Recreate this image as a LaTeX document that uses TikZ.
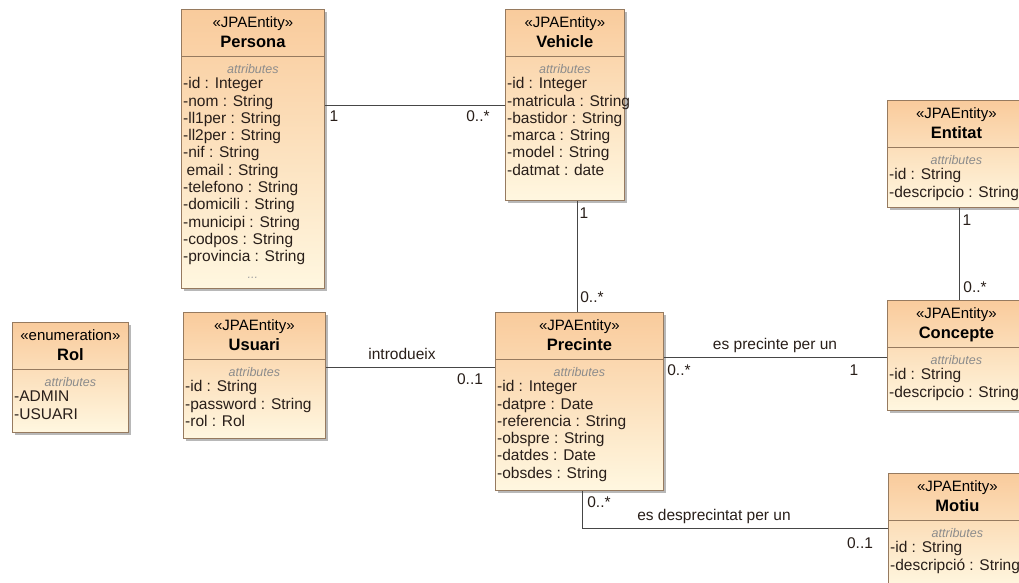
\documentclass[tikz,border=0pt]{standalone}
\usepackage{fontspec}
\setmainfont{Liberation Sans}
\usetikzlibrary{calc,shadows}
\definecolor{clsTop}{RGB}{249,203,156}
\definecolor{clsBot}{RGB}{255,247,224}
\definecolor{clsLine}{RGB}{150,122,95}
\definecolor{attrGray}{RGB}{140,140,140}
\definecolor{rowCol}{RGB}{40,30,25}
\definecolor{connCol}{RGB}{70,70,70}
\tikzset{
 cls/.style={draw=clsLine, line width=0.8pt, top color=clsTop, bottom color=clsBot, inner sep=0pt,
   drop shadow={shadow xshift=3pt, shadow yshift=-3pt, fill=black!55, opacity=0.5}},
 sepline/.style={draw=clsLine, line width=0.8pt},
 hdr/.style={font=\fontsize{15}{17}\selectfont, inner sep=0pt, text height=11pt, text depth=3.5pt},
 ttl/.style={font=\fontsize{16.5}{18}\selectfont\bfseries, inner sep=0pt, text height=11.5pt, text depth=3.5pt},
 attrl/.style={font=\fontsize{12.5}{14}\selectfont\itshape, text=attrGray, inner sep=0pt, text height=9pt, text depth=3pt},
 row/.style={font=\fontsize{15.5}{17}\selectfont, inner sep=0pt, anchor=west, text=rowCol, text height=11pt, text depth=3.5pt},
 conn/.style={draw=connCol, line width=0.8pt},
 lbl/.style={font=\fontsize{15.5}{17}\selectfont, inner sep=0pt, text=rowCol, text height=11pt, text depth=3.5pt},
}
% #1 name, #2 x, #3 y, #4 w, #5 h, #6 stereotype, #7 title, #8 rows
\newcommand\umlclass[8]{%
 \node[cls, minimum width=#4pt, minimum height=#5pt, anchor=north west] (#1) at (#2,#3) {};
 \draw[sepline] ($(#1.north west)+(0,47)$) coordinate (#1-sl) -- ($(#1.north east)+(0,47)$) coordinate (#1-sr);
 \node[hdr] (#1-st) at ($(#1.north)+(0,15)$) {#6};
 \node[ttl] (#1-ti) at ($(#1.north)+(0,34)$) {#7};
 \node[attrl] (#1-at) at ($(#1.north)+(0,61)$) {attributes};
 \foreach \r [count=\i] in {#8} {
   \node[row] (#1-r\i) at ($(#1.north west)+(2,{76+(\i-1)*17.3})$) {\r};
 }
}
\begin{document}
\begin{tikzpicture}[x=1pt,y=-1pt]
\useasboundingbox (0,0) rectangle (1019,582);
\clip (0,0) rectangle (1019,582);
\fill[white] (0,0) rectangle (1019,582);

\umlclass{persona}{181}{9}{143}{279}{«JPAEntity»}{Persona}{-id : Integer,-nom : String,-ll1per : String,-ll2per : String,-nif : String,\hspace{3.5pt}email : String,-telefono : String,-domicili : String,-municipi : String,-codpos : String,-provincia : String}
\node[attrl, text=attrGray!80] (persona-dots) at ($(persona.north)+(0,{76+11*17.3})$) {...};

\umlclass{vehicle}{505}{9}{119}{191}{«JPAEntity»}{Vehicle}{-id : Integer,-matricula : String,-bastidor : String,-marca : String,-model : String,-datmat : date}

\umlclass{entitat}{887}{100}{138}{107}{«JPAEntity»}{Entitat}{-id : String,-descripcio : String}

\umlclass{concepte}{887}{300}{138}{110}{«JPAEntity»}{Concepte}{-id : String,-descripcio : String}

\umlclass{rol}{12}{322}{116}{110}{«enumeration»}{Rol}{-ADMIN,-USUARI}

\umlclass{usuari}{183}{312}{142}{126}{«JPAEntity»}{Usuari}{-id : String,-password : String,-rol : Rol}

\umlclass{precinte}{495}{312}{168}{178}{«JPAEntity»}{Precinte}{-id : Integer,-datpre : Date,-referencia : String,-obspre : String,-datdes : Date,-obsdes : String}

\umlclass{motiu}{888}{473}{138}{114}{«JPAEntity»}{Motiu}{-id : String,-descripció : String}

% Persona -- Vehicle
\draw[conn] ($(persona.north east)+(0,96)$) coordinate (pv) -- (pv -| vehicle.west);
\node[lbl] (pv-a) at (334,118) {1};
\node[lbl] (pv-b) at (478,118) {0..*};

% Vehicle -- Precinte
\draw[conn] ($(vehicle.south west)+(72,0)$) coordinate (vp) -- (vp |- precinte.north);
\node[lbl] (vp-a) at (584,215) {1};
\node[lbl] (vp-b) at (592,299) {0..*};

% Entitat -- Concepte
\draw[conn] ($(entitat.south west)+(72,0)$) coordinate (ec) -- (ec |- concepte.north);
\node[lbl] (ec-a) at (967,222) {1};
\node[lbl] (ec-b) at (975,289) {0..*};

% Precinte -- Concepte
\draw[conn] ($(precinte.north east)+(0,45)$) coordinate (pc) -- (pc -| concepte.west);
\node[lbl] (pc-l) at (775,346) {es precinte per un};
\node[lbl] (pc-a) at (679,372) {0..*};
\node[lbl] (pc-b) at (854,372) {1};

% Usuari -- Precinte
\draw[conn] ($(usuari.north east)+(0,55)$) coordinate (up) -- (up -| precinte.west);
\node[lbl] (up-l) at (402,356) {introdueix};
\node[lbl] (up-b) at (470,381) {0..1};

% Precinte -- Motiu
\draw[conn] ($(precinte.south west)+(87,0)$) coordinate (pm) |- ($(motiu.north west)+(0,55)$) coordinate (pm2);
\node[lbl] (pm-a) at (599,504) {0..*};
\node[lbl] (pm-l) at (714,517) {es desprecintat per un};
\node[lbl] (pm-b) at (860,545) {0..1};
\end{tikzpicture}
\end{document}
